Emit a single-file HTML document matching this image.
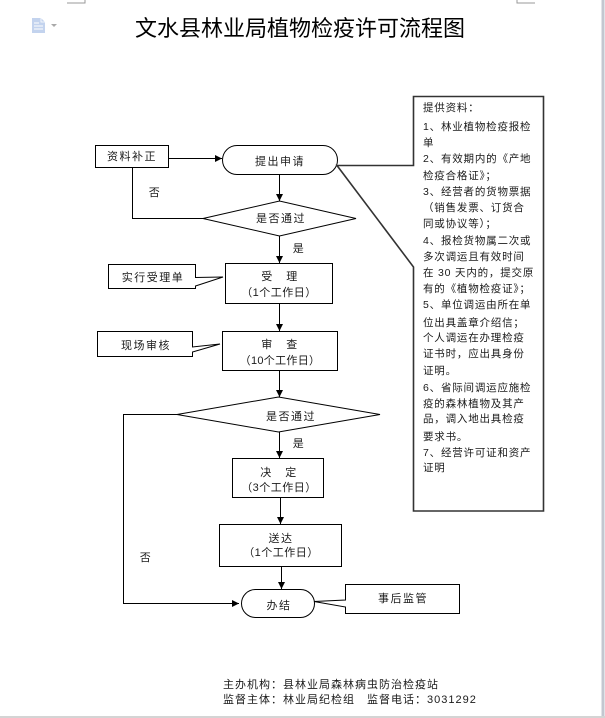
<!DOCTYPE html>
<html><head><meta charset="utf-8">
<style>
html,body{margin:0;padding:0;background:#fff;}
body{width:605px;height:718px;overflow:hidden;position:relative;}
svg{position:absolute;left:0;top:0;}
text{font-family:"Liberation Sans","Noto Sans CJK SC",sans-serif;fill:#1a1a1a;}
.f{font-size:11px;letter-spacing:1.5px;}
.c{text-anchor:middle;}
.b{font-size:10.5px;letter-spacing:0.8px;}
</style></head>
<body>
<svg width="605" height="718" viewBox="0 0 605 718" xmlns="http://www.w3.org/2000/svg">
<defs>
<marker id="ah" viewBox="0 0 10 10" refX="10" refY="5" markerWidth="7" markerHeight="7" markerUnits="userSpaceOnUse" orient="auto">
<path d="M0,0 L10,5 L0,10 Z" fill="#000"/>
</marker>
</defs>
<!-- page decorations -->
<path d="M67,3 H85 V0" fill="none" stroke="#999" stroke-width="1"/>
<path d="M517,0 V3 H535" fill="none" stroke="#999" stroke-width="1"/>
<rect x="601.5" y="0" width="3" height="718" fill="#c3c7d0"/>
<rect x="0" y="716" width="605" height="2" fill="#d4d4d4"/>
<!-- doc icon -->
<path d="M32,18 H41 L45,22 V33 H32 Z" fill="#c3d3ee"/>
<path d="M41,18 V22 H45" fill="none" stroke="#fff" stroke-width="0.8"/>
<path d="M34,23 H39 M34,26 H43 M34,29 H43" stroke="#fff" stroke-width="1"/>
<path d="M51,24 H57 L54,27 Z" fill="#a9a9a9"/>
<!-- title -->
<text x="300" y="36" class="c" style="font-size:22px;fill:#000;">文水县林业局植物检疫许可流程图</text>

<g fill="none" stroke="#000" stroke-width="1">
<!-- 资料补正 -->
<rect x="95.5" y="145.5" width="73" height="22"/>
<line x1="168.5" y1="158.5" x2="222" y2="158.5" marker-end="url(#ah)"/>
<!-- 提出申请 oval -->
<rect x="222.5" y="145.5" width="115" height="29" rx="14.5" ry="14.5"/>
<line x1="279.5" y1="174.5" x2="279.5" y2="201" marker-end="url(#ah)"/>
<!-- diamond 1 -->
<polygon points="203,218.5 279.5,201 356,218.5 279.5,236"/>
<polyline points="203,218.5 132.5,218.5 132.5,167.5"/>
<line x1="279.5" y1="236" x2="279.5" y2="263" marker-end="url(#ah)"/>
<!-- 受理 -->
<rect x="225.5" y="263.5" width="107" height="40"/>
<path d="M108.5,264.5 H195.5 V277.5 L223,277 L195.5,286 V288.5 H108.5 Z"/>
<line x1="279.5" y1="303.5" x2="279.5" y2="331" marker-end="url(#ah)"/>
<!-- 审查 -->
<rect x="222.5" y="331.5" width="115" height="39"/>
<path d="M97.5,331.5 H192.5 V347 L220,344 L192.5,352 V356.5 H97.5 Z"/>
<line x1="279.5" y1="370.5" x2="279.5" y2="397" marker-end="url(#ah)"/>
<!-- diamond 2 -->
<polygon points="177,414.5 278.5,397 380,414.5 278.5,432"/>
<polyline points="177,414.5 123.5,414.5 123.5,603.5 239,603.5" marker-end="url(#ah)"/>
<line x1="279.5" y1="432" x2="279.5" y2="458" marker-end="url(#ah)"/>
<!-- 决定 -->
<rect x="232.5" y="458.5" width="91" height="39"/>
<line x1="280.5" y1="497.5" x2="280.5" y2="524" marker-end="url(#ah)"/>
<!-- 送达 -->
<rect x="219.5" y="524.5" width="122" height="42"/>
<line x1="281.5" y1="566.5" x2="281.5" y2="589" marker-end="url(#ah)"/>
<!-- 办结 oval -->
<rect x="241.5" y="589.5" width="73" height="28" rx="14" ry="14"/>
<path d="M345.5,584.5 H459.5 V613.5 H345.5 V607 L314,601.5 L345.5,600 Z"/>
</g>
<!-- big callout -->
<path d="M413.5,96.5 H543.5 V511 H413.5 V267 L337,165.5 H413.5 Z" fill="none" stroke="#333" stroke-width="1.6"/>

<!-- flow text -->
<text x="132" y="160" class="f c">资料补正</text>
<text x="280" y="165" class="f c">提出申请</text>
<text x="281" y="222" class="f c">是否通过</text>
<text x="155" y="196" class="f c">否</text>
<text x="299" y="252" class="f c">是</text>
<text x="280" y="280" class="f c">受　理</text>
<text x="279" y="296" class="f c" style="letter-spacing:0.5px">（1个工作日）</text>
<text x="153" y="281" class="f c">实行受理单</text>
<text x="280" y="348" class="f c">审　查</text>
<text x="280" y="364" class="f c" style="letter-spacing:0.3px">（10个工作日）</text>
<text x="146" y="349" class="f c">现场审核</text>
<text x="291" y="420" class="f c">是否通过</text>
<text x="299" y="447" class="f c">是</text>
<text x="279" y="476" class="f c">决　定</text>
<text x="279" y="491" class="f c" style="letter-spacing:0.5px">（3个工作日）</text>
<text x="281" y="542" class="f c">送达</text>
<text x="281" y="556" class="f c" style="letter-spacing:0.5px">（1个工作日）</text>
<text x="146" y="561" class="f c">否</text>
<text x="279" y="609" class="f c">办结</text>
<text x="403" y="602" class="f c">事后监管</text>

<!-- big box text -->
<g class="b">
<text x="423" y="111" class="b">提供资料：</text>
<text x="423" y="130" class="b">1、林业植物检疫报检</text>
<text x="423" y="146" class="b">单</text>
<text x="423" y="162" class="b">2、有效期内的《产地</text>
<text x="423" y="179" class="b">检疫合格证》；</text>
<text x="423" y="195" class="b">3、经营者的货物票据</text>
<text x="423" y="211" class="b">（销售发票、订货合</text>
<text x="423" y="227" class="b">同或协议等）；</text>
<text x="423" y="244" class="b">4、报检货物属二次或</text>
<text x="423" y="260" class="b">多次调运且有效时间</text>
<text x="423" y="276" class="b">在 30 天内的，提交原</text>
<text x="423" y="292" class="b">有的《植物检疫证》；</text>
<text x="423" y="308" class="b">5、单位调运由所在单</text>
<text x="423" y="326" class="b">位出具盖章介绍信；</text>
<text x="423" y="341" class="b">个人调运在办理检疫</text>
<text x="423" y="357" class="b">证书时，应出具身份</text>
<text x="423" y="374" class="b">证明。</text>
<text x="423" y="391" class="b">6、省际间调运应施检</text>
<text x="423" y="407" class="b">疫的森林植物及其产</text>
<text x="423" y="422" class="b">品，调入地出具检疫</text>
<text x="423" y="440" class="b">要求书。</text>
<text x="423" y="456" class="b">7、经营许可证和资产</text>
<text x="423" y="471" class="b">证明</text>
</g>

<!-- footer -->
<text x="223" y="688" style="font-size:11px;letter-spacing:1px;">主办机构：县林业局森林病虫防治检疫站</text>
<text x="223" y="703" style="font-size:11px;letter-spacing:1px;">监督主体：林业局纪检组　监督电话：3031292</text>
</svg>
</body></html>
